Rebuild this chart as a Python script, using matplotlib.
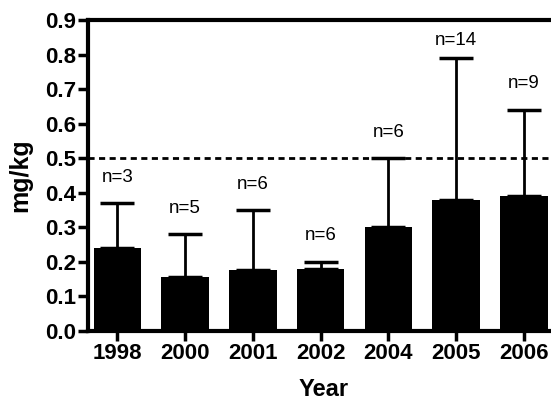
import matplotlib
matplotlib.use("Agg")
import matplotlib.pyplot as plt
import numpy as np

plt.rcParams['font.family'] = ['Liberation Sans', 'DejaVu Sans']

years = ['1998', '2000', '2001', '2002', '2004', '2005', '2006']
means = [0.24, 0.155, 0.177, 0.18, 0.30, 0.378, 0.39]
upper = [0.37, 0.28, 0.35, 0.20, 0.50, 0.79, 0.64]
counts = [3, 5, 6, 6, 6, 14, 9]
limit = 0.5

fig = plt.figure(figsize=(5.51, 4.0), dpi=100)
ax = fig.add_axes([0.16, 0.1725, 0.84, 0.7775])

x = np.arange(len(years))
err = np.array(upper) - np.array(means)
ax.bar(x, means, width=0.7, color='black', zorder=2)
ax.errorbar(x, means, yerr=[np.zeros(len(x)), err], fmt='none', ecolor='black',
            elinewidth=2, capsize=12, capthick=2.5, zorder=3)
ax.axhline(limit, color='black', lw=2, ls=(0, (2.2, 1.6)), zorder=1)

for xi, top, n in zip(x, upper, counts):
    ax.text(xi, min(top + 0.075, 0.84), 'n=%d' % n, ha='center', va='center', fontsize=13.5)

ax.set_xlim(-0.43, 6.4)
ax.set_ylim(0, 0.9)
ax.set_yticks(np.arange(0, 0.91, 0.1))
ax.set_yticklabels(['%.1f' % v for v in np.arange(0, 0.91, 0.1)])
ax.set_xticks(x)
ax.set_xticklabels(years)
for lab in ax.get_xticklabels() + ax.get_yticklabels():
    lab.set_fontweight('bold')
    lab.set_fontsize(16)

ax.spines['right'].set_visible(False)
for s in ['left', 'top', 'bottom']:
    ax.spines[s].set_linewidth(3)
ax.tick_params(axis='both', direction='out', length=7, width=2.5, pad=1.5)

ax.set_ylabel('mg/kg', fontsize=18, fontweight='bold')
ax.set_xlabel('Year', fontsize=17, fontweight='bold')
ax.yaxis.set_label_coords(-0.12, 0.5)
ax.xaxis.set_label_coords(0.508, -0.15)

fig.savefig('out.png', dpi=100)
